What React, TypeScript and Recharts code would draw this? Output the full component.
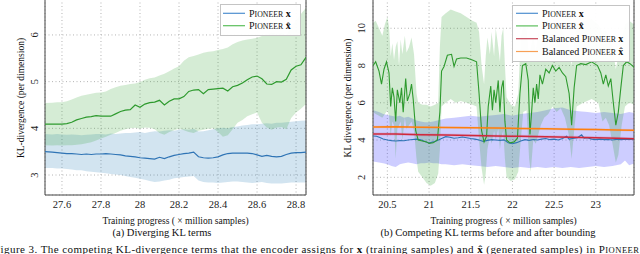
import React from 'react'
import { ComposedChart, Line, Area, XAxis, YAxis, CartesianGrid, ReferenceArea } from 'recharts'

const FONT = '"Liberation Serif", "Times New Roman", Times, serif'

// (a) Diverging KL terms
const leftX = [27.513, 27.55, 27.575, 27.6, 27.625, 27.65, 27.675, 27.7, 27.725, 27.75, 27.775, 27.8, 27.825, 27.85, 27.875, 27.9, 27.925, 27.95, 27.975, 28.0, 28.025, 28.05, 28.075, 28.1, 28.125, 28.15, 28.175, 28.2, 28.225, 28.25, 28.275, 28.3, 28.325, 28.35, 28.375, 28.4, 28.425, 28.45, 28.475, 28.5, 28.525, 28.55, 28.575, 28.6, 28.625, 28.65, 28.675, 28.7, 28.725, 28.75, 28.775, 28.8, 28.825, 28.851]
const leftGreen = [4.09, 4.09, 4.09, 4.09, 4.1, 4.13, 4.18, 4.21, 4.24, 4.25, 4.27, 4.26, 4.26, 4.26, 4.31, 4.36, 4.39, 4.4, 4.5, 4.45, 4.52, 4.55, 4.56, 4.6, 4.5, 4.58, 4.63, 4.63, 4.68, 4.79, 4.82, 4.83, 4.74, 4.83, 4.84, 4.85, 4.86, 4.8, 4.89, 4.92, 4.97, 5.04, 5.1, 5.12, 5.06, 4.95, 4.94, 5.0, 4.99, 5.05, 5.25, 5.33, 5.36, 5.52]
const leftGreenLo = [3.64, 3.63, 3.64, 3.63, 3.64, 3.64, 3.65, 3.66, 3.68, 3.7, 3.74, 3.78, 3.82, 3.86, 3.9, 3.95, 3.98, 4.0, 4.01, 3.99, 4.02, 4.01, 3.98, 3.9, 3.86, 3.92, 3.96, 3.99, 3.96, 3.92, 3.9, 3.95, 3.97, 3.99, 4.0, 3.92, 3.82, 3.85, 3.98, 4.12, 4.18, 4.26, 4.3, 4.34, 4.12, 4.02, 3.97, 4.02, 4.03, 3.98, 4.22, 4.34, 4.42, 4.52]
const leftGreenHi = [4.54, 4.55, 4.56, 4.56, 4.58, 4.62, 4.66, 4.7, 4.72, 4.74, 4.76, 4.77, 4.79, 4.84, 4.88, 4.91, 4.93, 4.95, 4.96, 4.99, 5.04, 5.07, 5.09, 5.13, 5.17, 5.22, 5.28, 5.33, 5.45, 5.52, 5.55, 5.58, 5.62, 5.64, 5.65, 5.68, 5.7, 5.73, 5.8, 5.85, 5.88, 5.9, 5.92, 5.94, 5.98, 6.02, 6.05, 6.03, 6.04, 6.0, 6.18, 6.32, 6.45, 6.58]
const leftBlue = [3.5, 3.49, 3.48, 3.47, 3.46, 3.46, 3.45, 3.44, 3.45, 3.44, 3.45, 3.45, 3.46, 3.45, 3.44, 3.43, 3.41, 3.4, 3.39, 3.37, 3.36, 3.35, 3.34, 3.38, 3.35, 3.39, 3.42, 3.44, 3.46, 3.47, 3.49, 3.39, 3.37, 3.36, 3.37, 3.39, 3.43, 3.46, 3.47, 3.47, 3.47, 3.47, 3.46, 3.43, 3.4, 3.42, 3.4, 3.39, 3.4, 3.44, 3.47, 3.48, 3.48, 3.49]
const leftBlueLo = [3.15, 3.15, 3.14, 3.14, 3.13, 3.12, 3.1, 3.1, 3.08, 3.07, 3.06, 3.05, 3.04, 3.02, 3.01, 3.0, 2.98, 2.96, 2.94, 2.92, 2.9, 2.87, 2.85, 2.86, 2.88, 2.9, 2.93, 2.94, 2.96, 2.97, 2.98, 2.88, 2.85, 2.84, 2.84, 2.83, 2.84, 2.85, 2.86, 2.86, 2.85, 2.84, 2.83, 2.84, 2.85, 2.83, 2.82, 2.82, 2.82, 2.83, 2.84, 2.84, 2.84, 2.84]
const leftBlueHi = [3.88, 3.87, 3.88, 3.87, 3.86, 3.87, 3.86, 3.85, 3.86, 3.87, 3.88, 3.88, 3.87, 3.89, 3.88, 3.89, 3.9, 3.9, 3.91, 3.92, 3.9, 3.92, 3.94, 3.93, 3.95, 3.96, 3.95, 3.97, 3.98, 3.97, 3.99, 3.93, 3.94, 3.96, 3.98, 4.0, 4.01, 4.0, 4.03, 4.04, 4.06, 4.07, 4.09, 4.09, 4.1, 4.11, 4.1, 4.12, 4.12, 4.13, 4.14, 4.15, 4.16, 4.17]
const leftXTicks = [27.6, 27.8, 28, 28.2, 28.4, 28.6, 28.8]
const leftYTicks = [3, 4, 5, 6]

// (b) Competing KL terms before and after bounding
const rGreenX = [20.33, 20.36, 20.4, 20.43, 20.46, 20.49, 20.52, 20.54, 20.56, 20.58, 20.6, 20.62, 20.65, 20.67, 20.69, 20.72, 20.74, 20.77, 20.79, 20.81, 20.84, 20.87, 20.92, 20.97, 21.0, 21.05, 21.1, 21.13, 21.15, 21.18, 21.22, 21.27, 21.3, 21.33, 21.38, 21.45, 21.52, 21.57, 21.6, 21.63, 21.66, 21.69, 21.71, 21.74, 21.76, 21.78, 21.8, 21.83, 21.85, 21.87, 21.89, 21.91, 21.93, 21.97, 22.02, 22.06, 22.09, 22.12, 22.16, 22.19, 22.21, 22.23, 22.25, 22.27, 22.29, 22.31, 22.33, 22.36, 22.4, 22.44, 22.48, 22.52, 22.56, 22.6, 22.64, 22.68, 22.71, 22.74, 22.77, 22.82, 22.88, 22.95, 23.02, 23.06, 23.09, 23.12, 23.15, 23.18, 23.21, 23.24, 23.27, 23.3, 23.33, 23.37, 23.41, 23.46]
const rGreenY = [8.0, 8.2, 7.7, 7.0, 7.8, 8.2, 7.6, 5.8, 6.8, 6.3, 5.0, 6.7, 6.0, 6.8, 5.5, 7.3, 6.1, 6.5, 7.0, 6.2, 4.5, 4.0, 3.95, 3.9, 3.82, 3.85, 4.0, 5.5, 7.7, 7.95, 8.55, 8.6, 7.95, 8.35, 8.4, 8.4, 8.3, 8.2, 6.5, 4.5, 3.9, 4.2, 5.8, 6.9, 5.6, 6.7, 6.0, 7.2, 5.5, 6.8, 7.2, 5.0, 4.0, 3.85, 3.9, 4.1, 6.5, 8.0, 8.1, 7.2, 4.3, 5.5, 6.8, 6.0, 7.0, 6.2, 7.5, 7.0, 7.8, 7.6, 8.0, 7.7, 7.9, 7.6, 7.4, 6.5, 4.8, 6.8, 8.0, 8.1, 8.05, 8.2, 8.0, 7.6, 7.0, 7.5, 6.9, 7.3, 6.0, 4.8, 5.5, 6.8, 8.0, 8.2, 8.1, 7.9]
const rGreenBandX = [20.33, 20.36, 20.4, 20.44, 20.47, 20.5, 20.52, 20.54, 20.56, 20.58, 20.6, 20.62, 20.64, 20.66, 20.68, 20.71, 20.73, 20.76, 20.79, 20.82, 20.85, 20.87, 20.92, 20.97, 21.02, 21.07, 21.11, 21.13, 21.15, 21.2, 21.26, 21.32, 21.38, 21.45, 21.52, 21.57, 21.6, 21.63, 21.66, 21.68, 21.7, 21.73, 21.75, 21.78, 21.8, 21.83, 21.85, 21.87, 21.89, 21.91, 21.93, 21.98, 22.03, 22.07, 22.1, 22.13, 22.17, 22.2, 22.22, 22.25, 22.28, 22.31, 22.34, 22.38, 22.43, 22.48, 22.53, 22.58, 22.63, 22.68, 22.71, 22.74, 22.77, 22.85, 22.95, 23.03, 23.08, 23.12, 23.16, 23.2, 23.24, 23.27, 23.31, 23.35, 23.4, 23.46]
const rGreenLo = [5.5, 5.4, 5.3, 5.2, 5.4, 5.6, 5.3, 4.2, 5.0, 4.8, 3.0, 4.6, 4.8, 5.0, 4.0, 5.2, 4.6, 4.8, 5.0, 4.5, 3.0, 2.3, 2.0, 1.7, 1.55, 1.7, 2.2, 3.5, 5.8, 6.0, 6.2, 6.0, 6.1, 6.0, 5.9, 5.8, 4.0, 2.5, 1.6, 2.2, 3.5, 4.2, 3.8, 4.5, 4.0, 4.6, 3.5, 4.2, 4.5, 3.0, 2.0, 1.8, 1.9, 2.3, 4.0, 5.5, 5.6, 3.0, 2.3, 4.0, 3.8, 4.3, 4.8, 5.2, 5.4, 5.8, 5.5, 5.7, 5.2, 4.2, 3.0, 4.5, 5.8, 6.0, 6.2, 6.0, 5.0, 5.2, 4.8, 3.8, 2.8, 3.2, 4.8, 5.8, 6.0, 5.9]
const rGreenHi = [10.3, 10.4, 10.0, 9.6, 10.2, 10.6, 10.1, 8.5, 9.2, 8.3, 9.0, 9.3, 8.0, 9.4, 8.6, 9.6, 8.7, 9.0, 9.5, 8.6, 6.5, 6.0, 5.9, 5.9, 5.8, 5.9, 6.0, 9.0, 10.6, 10.8, 11.0, 10.9, 10.8, 10.6, 10.4, 10.3, 9.8, 8.0, 7.0, 8.5, 9.5, 8.6, 9.8, 8.5, 10.0, 9.0, 8.2, 9.6, 10.0, 8.0, 6.3, 5.9, 5.8, 6.5, 9.5, 10.2, 10.0, 8.5, 9.0, 9.6, 8.8, 9.8, 9.2, 10.0, 9.8, 10.1, 9.9, 10.0, 9.6, 9.0, 8.0, 9.2, 10.2, 10.4, 10.5, 10.2, 9.8, 9.9, 9.5, 9.0, 7.8, 8.5, 9.5, 10.2, 10.4, 10.2]
const rBlueBandX = [20.33, 20.4, 20.45, 20.5, 20.55, 20.6, 20.65, 20.7, 20.75, 20.8, 20.85, 20.9, 20.95, 21.0, 21.05, 21.1, 21.15, 21.2, 21.3, 21.4, 21.5, 21.6, 21.7, 21.8, 21.9, 22.0, 22.1, 22.2, 22.3, 22.4, 22.5, 22.6, 22.7, 22.8, 22.9, 23.0, 23.1, 23.2, 23.3, 23.35, 23.4, 23.46]
const rBlueLo = [2.85, 2.8, 2.75, 2.7, 2.6, 2.55, 2.7, 2.75, 2.8, 2.75, 2.7, 2.75, 2.75, 2.8, 2.75, 2.75, 2.7, 2.7, 2.65, 2.7, 2.65, 2.6, 2.55, 2.6, 2.55, 2.5, 2.55, 2.5, 2.55, 2.5, 2.55, 2.5, 2.55, 2.5, 2.55, 2.6, 2.55, 2.6, 2.7, 2.9, 2.65, 2.75]
const rBlueHi = [5.6, 5.5, 5.4, 5.35, 5.3, 5.25, 5.3, 5.2, 5.25, 5.15, 5.05, 5.0, 4.95, 4.95, 5.0, 5.05, 5.1, 5.15, 5.2, 5.25, 5.3, 5.25, 5.3, 5.35, 5.4, 5.3, 5.4, 5.45, 5.5, 5.6, 5.7, 5.75, 5.6, 5.55, 5.5, 5.45, 5.5, 5.45, 5.4, 5.45, 5.5, 5.45]
const rBlueX = [20.33, 20.37, 20.41, 20.45, 20.5, 20.55, 20.6, 20.65, 20.7, 20.75, 20.8, 20.85, 20.9, 20.95, 21.0, 21.05, 21.1, 21.15, 21.2, 21.25, 21.3, 21.35, 21.4, 21.45, 21.5, 21.55, 21.6, 21.65, 21.7, 21.75, 21.8, 21.85, 21.9, 21.95, 22.0, 22.05, 22.1, 22.15, 22.2, 22.25, 22.3, 22.35, 22.4, 22.45, 22.5, 22.55, 22.6, 22.65, 22.68, 22.72, 22.78, 22.83, 22.86, 22.9, 22.95, 23.0, 23.05, 23.1, 23.15, 23.2, 23.25, 23.3, 23.35, 23.4, 23.46]
const rBlueY = [4.22, 4.2, 4.14, 4.06, 4.0, 3.97, 3.95, 3.97, 3.96, 4.0, 4.03, 4.05, 4.02, 3.92, 3.84, 3.9, 3.98, 4.08, 4.18, 4.15, 4.1, 4.12, 4.16, 4.12, 4.08, 4.05, 4.0, 3.92, 3.98, 4.02, 4.0, 3.98, 4.01, 3.85, 3.8, 3.86, 3.95, 4.02, 3.98, 4.03, 4.0, 4.05, 4.08, 4.02, 4.05, 4.0, 4.08, 4.2, 4.05, 4.08, 4.12, 4.28, 4.1, 4.12, 4.05, 4.02, 4.05, 4.02, 4.03, 4.0, 4.04, 4.02, 4.04, 4.03, 4.05]
const rBalX = [20.33, 20.6, 20.9, 21.2, 21.5, 21.8, 22.1, 22.4, 22.7, 23.0, 23.25, 23.46]
const rRedY = [4.33, 4.32, 4.29, 4.27, 4.25, 4.22, 4.2, 4.18, 4.15, 4.12, 4.1, 4.07]
const rRedLo = [4.25, 4.24, 4.21, 4.19, 4.17, 4.14, 4.12, 4.1, 4.07, 4.04, 4.02, 3.99]
const rRedHi = [4.41, 4.4, 4.37, 4.35, 4.33, 4.3, 4.28, 4.26, 4.23, 4.2, 4.18, 4.15]
const rOrangeY = [4.7, 4.71, 4.69, 4.67, 4.66, 4.64, 4.62, 4.6, 4.58, 4.56, 4.54, 4.52]
const rOrangeLo = [4.63, 4.64, 4.62, 4.6, 4.59, 4.57, 4.55, 4.53, 4.51, 4.49, 4.47, 4.45]
const rOrangeHi = [4.77, 4.78, 4.76, 4.74, 4.73, 4.71, 4.69, 4.67, 4.65, 4.63, 4.61, 4.59]
const rightXTicks = [20.5, 21, 21.5, 22, 22.5, 23]
const rightYTicks = [2, 4, 6, 8, 10]

const BLUE = '#2f74b5'
const GREEN = '#2e9a2e'
const RED = '#d0283c'
const ORANGE = '#ff7f0e'

const leftRows = leftX.map((x, i) => ({
  x,
  blue: leftBlue[i],
  green: leftGreen[i],
  blueBand: [leftBlueLo[i], leftBlueHi[i]],
  greenBand: [leftGreenLo[i], leftGreenHi[i]],
}))
const lineRows = (xs: number[], ys: number[]) => xs.map((x, i) => ({ x, y: ys[i] }))
const bandRows = (xs: number[], lo: number[], hi: number[]) => xs.map((x, i) => ({ x, band: [lo[i], hi[i]] }))

const fmt = (v: number) => String(Math.round(v * 10) / 10)

const XTick = (props: any) => (
  <text x={props.x} y={props.y + 13} textAnchor="middle" fontFamily={FONT} fontSize={10.5} fill="#222">
    {fmt(props.payload.value)}
  </text>
)
const yTick = (off: number) => (props: any) => (
  <text
    transform={`translate(${props.x - off},${props.y}) rotate(-90)`}
    textAnchor="middle"
    fontFamily={FONT}
    fontSize={10.5}
    fill="#222"
  >
    {fmt(props.payload.value)}
  </text>
)

const Pioneer = ({ size }: { size: number }) => (
  <>
    <tspan>P</tspan>
    <tspan fontSize={size * 0.78}>IONEER</tspan>
  </>
)

function LegendItem({ x, y, color, pre, hat }: { x: number; y: number; color: string; pre?: string; hat?: boolean }) {
  return (
    <g>
      <line x1={x} x2={x + 22} y1={y} y2={y} stroke={color} strokeWidth={1.2} />
      <text x={x + 26} y={y + 3.5} fontFamily={FONT} fontSize={10} fill="#111">
        {pre ? <tspan>{pre} </tspan> : null}
        <Pioneer size={10} />
        <tspan fontWeight="bold"> {hat ? 'x\u0302' : 'x'}</tspan>
      </text>
    </g>
  )
}

const gridProps = { stroke: '#b4b4b4', strokeDasharray: '1 2.5' }

export default function App() {
  return (
    <div style={{ position: 'absolute', left: 0, top: 0, width: 640, height: 254, overflow: 'hidden', background: '#fff' }}>
      <div style={{ position: 'absolute', left: 0, top: -10 }}>
        <ComposedChart width={320} height={230} data={leftRows} margin={{ top: 9, right: 14, bottom: 0, left: 0 }}>
          <CartesianGrid {...gridProps} />
          <XAxis dataKey="x" type="number" domain={[27.513, 28.851]} ticks={leftXTicks} allowDataOverflow interval={0}
            axisLine={false} tickLine={false} tickSize={0} tickMargin={0} height={25} tick={XTick} />
          <YAxis type="number" domain={[2.572, 6.77]} ticks={leftYTicks} allowDataOverflow interval={0}
            axisLine={false} tickLine={false} tickSize={0} tickMargin={0} width={45} tick={yTick(7)} />
          <Area dataKey="blueBand" type="linear" stroke="none" fill="#1f77b4" fillOpacity={0.2} isAnimationActive={false} />
          <Area dataKey="greenBand" type="linear" stroke="none" fill="#2ca02c" fillOpacity={0.2} isAnimationActive={false} />
          <Line dataKey="blue" type="linear" stroke={BLUE} strokeWidth={1.2} dot={false} isAnimationActive={false} />
          <Line dataKey="green" type="linear" stroke={GREEN} strokeWidth={1.2} dot={false} isAnimationActive={false} />
          <ReferenceArea x1={27.513} x2={28.851} y1={2.572} y2={6.77} fill="none" stroke="#444" strokeWidth={1} ifOverflow="visible" />
        </ComposedChart>
      </div>

      <div style={{ position: 'absolute', left: 320, top: -10 }}>
        <ComposedChart width={320} height={230} margin={{ top: 9, right: 6, bottom: 0, left: 0 }}>
          <CartesianGrid {...gridProps} />
          <XAxis dataKey="x" type="number" domain={[20.328, 23.458]} ticks={rightXTicks} allowDataOverflow interval={0}
            axisLine={false} tickLine={false} tickSize={0} tickMargin={0} height={25} tick={XTick} />
          <YAxis type="number" domain={[1.05, 11.57]} ticks={rightYTicks} allowDataOverflow interval={0}
            axisLine={false} tickLine={false} tickSize={0} tickMargin={0} width={53} tick={yTick(8)} />
          <Area data={bandRows(rBlueBandX, rBlueLo, rBlueHi)} dataKey="band" type="linear" stroke="none" fill="#3c3cff" fillOpacity={0.26} isAnimationActive={false} />
          <Area data={bandRows(rGreenBandX, rGreenLo, rGreenHi)} dataKey="band" type="linear" stroke="none" fill="#2ca02c" fillOpacity={0.22} isAnimationActive={false} />
          <Area data={bandRows(rBalX, rRedLo, rRedHi)} dataKey="band" type="linear" stroke="none" fill={RED} fillOpacity={0.15} isAnimationActive={false} />
          <Area data={bandRows(rBalX, rOrangeLo, rOrangeHi)} dataKey="band" type="linear" stroke="none" fill={ORANGE} fillOpacity={0.15} isAnimationActive={false} />
          <Line data={lineRows(rBlueX, rBlueY)} dataKey="y" type="linear" stroke={BLUE} strokeWidth={1.1} dot={false} isAnimationActive={false} />
          <Line data={lineRows(rGreenX, rGreenY)} dataKey="y" type="linear" stroke={GREEN} strokeWidth={1.1} dot={false} isAnimationActive={false} />
          <Line data={lineRows(rBalX, rRedY)} dataKey="y" type="linear" stroke={RED} strokeWidth={1.5} dot={false} isAnimationActive={false} />
          <Line data={lineRows(rBalX, rOrangeY)} dataKey="y" type="linear" stroke={ORANGE} strokeWidth={1.5} dot={false} isAnimationActive={false} />
          <ReferenceArea x1={20.328} x2={23.458} y1={1.05} y2={11.57} fill="none" stroke="#444" strokeWidth={1} ifOverflow="visible" />
        </ComposedChart>
      </div>

      <svg width={640} height={254} style={{ position: 'absolute', left: 0, top: 0, pointerEvents: 'none' }}>
        <g fontFamily={FONT} fill="#111">
          <text transform="translate(24,98) rotate(-90)" textAnchor="middle" fontSize={9.5}>KL-divergence (per dimension)</text>
          <text transform="translate(351,98) rotate(-90)" textAnchor="middle" fontSize={9.5}>KL divergence (per dimension)</text>
          <text x={175.5} y={224} textAnchor="middle" fontSize={9.5}>Training progress ( × million samples)</text>
          <text x={503.5} y={224} textAnchor="middle" fontSize={9.5}>Training progress ( × million samples)</text>
          <text x={162} y={235.5} textAnchor="middle" fontSize={10.5}>(a)  Diverging KL terms</text>
          <text x={488} y={235.5} textAnchor="middle" fontSize={10.5}>(b)  Competing KL terms before and after bounding</text>
          <text x={-6} y={253} fontSize={11} textLength={645} lengthAdjust="spacing">
            Figure 3. The competing KL-divergence terms that the encoder assigns for <tspan fontWeight="bold">x</tspan> (training samples) and <tspan fontWeight="bold">{'x\u0302'}</tspan> (generated samples) in <Pioneer size={11} />
          </text>
        </g>

        <rect x={220.5} y={4.5} width={80} height={31} fill="#fff" fillOpacity={0.95} stroke="#c4c4c4" />
        <LegendItem x={223} y={13.3} color="#4f8fd0" />
        <LegendItem x={223} y={25.7} color="#5cbf5c" hat />

        <rect x={512.5} y={5.5} width={117} height={56} fill="#fff" fillOpacity={0.95} stroke="#c4c4c4" />
        <LegendItem x={516} y={13.3} color="#4f8fd0" />
        <LegendItem x={516} y={25.9} color="#5cbf5c" hat />
        <LegendItem x={516} y={38.7} color="#c84a5c" pre="Balanced" />
        <LegendItem x={516} y={51.5} color="#f7a055" pre="Balanced" hat />
      </svg>
    </div>
  )
}
